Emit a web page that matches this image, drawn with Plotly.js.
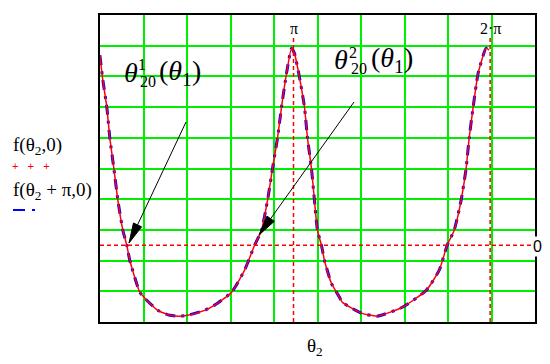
<!DOCTYPE html>
<html lang="en">
<head>
    <meta charset="UTF-8">
    <title>f(theta2) curves</title>
    <script src="https://cdn.plot.ly/plotly-3.0.1.min.js"></script>
    <style>
        body { margin: 0; background: #fff; }
        #plot { width: 550px; height: 364px; }
    </style>
</head>
<body>
    <div id="plot"></div>
    <script>
        // values (theta2 in rad, f in grid units)
        const theta2 = [0.048, 0.096, 0.159, 0.207, 0.271, 0.335, 0.415, 0.478, 0.526, 0.686,
            0.797, 0.973, 1.164, 1.308, 1.451, 1.722, 1.882, 2.153, 2.360, 2.520,
            2.631, 2.727, 2.807, 2.886, 2.950, 3.030, 3.110, 3.157, 3.237, 3.317,
            3.365, 3.428, 3.476, 3.524, 3.588, 3.636, 3.747, 3.875, 3.923, 4.226,
            4.481, 4.880, 5.262, 5.470, 5.597, 5.709, 5.820, 5.900, 5.948, 6.012,
            6.091, 6.219, 6.267];
        const fTheta2 = [6.19, 5.37, 4.50, 3.49, 2.51, 1.47, 0.49, 0.00, -0.49, -1.53,
            -1.79, -2.12, -2.28, -2.31, -2.28, -2.12, -1.95, -1.53, -0.81, 0.00,
            0.49, 1.47, 2.51, 3.49, 4.50, 5.60, 6.42, 6.25, 5.47, 4.50,
            3.49, 2.51, 1.47, 0.49, 0.00, -0.49, -1.24, -1.69, -1.86, -2.21,
            -2.31, -2.02, -1.47, -0.81, 0.00, 0.49, 1.47, 2.51, 3.49, 4.50,
            5.60, 6.42, 6.35];
        // f(theta2 + pi, 0) lies on top of f(theta2, 0) in the picture
        const fTheta2Pi = fTheta2.slice();

        const markerX = [Math.PI, 2 * Math.PI];
        const markerLabels = ['π', '2·π'];
        const xRange = [0.05, 7.0];
        const yRange = [-2.5, 7.5];

        // pixel -> paper helpers (plot area is 100..535 x 15..322)
        const px = x => (x - 100) / 435;
        const py = y => (322 - y) / 307;

        const serif = "'Liberation Serif', 'DejaVu Serif', serif";
        const sans = "'Liberation Sans', Arial, sans-serif";

        const traces = [
            {
                x: theta2, y: fTheta2Pi, type: 'scatter', mode: 'lines',
                line: { color: '#0000ff', width: 3, dash: '10px,6px,3px,6px', shape: 'spline', smoothing: 0.5 },
                hoverinfo: 'skip'
            },
            {
                x: theta2, y: fTheta2, type: 'scatter', mode: 'lines',
                line: { color: '#ff0000', width: 1.5, shape: 'spline', smoothing: 0.5 },
                hoverinfo: 'skip'
            }
        ];

        const shapes = [
            // zero line
            { type: 'line', xref: 'paper', yref: 'y', x0: 0, x1: 1, y0: 0, y1: 0,
              line: { color: '#ff0000', width: 1.5, dash: '4px,3px' } },
            // legend sample for the blue trace
            { type: 'line', xref: 'paper', yref: 'paper', x0: px(13), x1: px(25), y0: py(210), y1: py(210),
              line: { color: '#0000ff', width: 2 } },
            { type: 'line', xref: 'paper', yref: 'paper', x0: px(32), x1: px(35), y0: py(210), y1: py(210),
              line: { color: '#0000ff', width: 2 } }
        ];
        markerX.forEach(v => shapes.push({
            type: 'line', xref: 'x', yref: 'y', x0: v, x1: v, y0: yRange[0], y1: 6.8,
            line: { color: '#ff0000', width: 1.5, dash: '4px,3px' }
        }));

        // callout arrow: thin line plus a long narrow filled head (pixel coords)
        function arrow(x0, y0, x1, y1) {
            const dx = x1 - x0, dy = y1 - y0;
            const len = Math.hypot(dx, dy);
            const ux = dx / len, uy = dy / len;
            const headLen = 20, halfW = 4.5;
            const bx = x1 - ux * headLen, by = y1 - uy * headLen;
            shapes.push({ type: 'line', xref: 'paper', yref: 'paper',
                x0: px(x0), y0: py(y0), x1: px(bx), y1: py(by),
                line: { color: '#000', width: 1 } });
            const p1 = [bx - uy * halfW, by + ux * halfW];
            const p2 = [bx + uy * halfW, by - ux * halfW];
            shapes.push({ type: 'path', xref: 'paper', yref: 'paper',
                path: `M ${px(x1)} ${py(y1)} L ${px(p1[0])} ${py(p1[1])} L ${px(p2[0])} ${py(p2[1])} Z`,
                fillcolor: '#000', line: { color: '#000', width: 1 } });
        }
        arrow(186, 122, 129, 243);
        arrow(354, 102, 259, 235);

        const annotations = [];
        function txt(text, x, y, size, opts) {
            annotations.push(Object.assign({
                text: text, xref: 'paper', yref: 'paper', x: px(x), y: py(y),
                xanchor: 'center', yanchor: 'middle', showarrow: false,
                font: { family: serif, size: size, color: '#000' }
            }, opts || {}));
        }

        markerX.forEach((v, i) => annotations.push({
            text: markerLabels[i], xref: 'x', yref: 'paper', x: v, y: py(28),
            xanchor: 'center', yanchor: 'middle', showarrow: false,
            font: { family: serif, size: 16, color: '#000' }
        }));

        // right-hand "0" of the zero line
        txt('0', 537, 246, 16, { bgcolor: '#ffffff', font: { family: sans, size: 16, color: '#000' } });

        // theta^1_20(theta_1)
        txt('<i>θ</i>', 131, 72, 28);
        txt('1', 142, 65, 16);
        txt('20', 148, 81, 16);
        txt('(<i>θ</i><sub>1</sub>)', 157, 72, 28, { xanchor: 'left' });

        // theta^2_20(theta_1)
        txt('<i>θ</i>', 341, 60, 28);
        txt('2', 353, 52, 16);
        txt('20', 359, 68, 16);
        txt('(<i>θ</i><sub>1</sub>)', 369, 60, 28, { xanchor: 'left' });

        // legend on the left
        txt('f(θ<sub>2</sub>,0)', 11, 146, 19, { xanchor: 'left' });
        txt('+   +   +', 10, 166, 11, { xanchor: 'left', font: { family: sans, size: 11, color: '#ff0000' } });
        txt('f(θ<sub>2</sub> + π,0)', 11, 191, 19, { xanchor: 'left' });

        // axis label
        txt('θ<sub>2</sub>', 315, 347, 19);

        const layout = {
            width: 550, height: 364,
            margin: { l: 100, r: 15, t: 15, b: 42 },
            paper_bgcolor: '#ffffff', plot_bgcolor: '#ffffff',
            showlegend: false,
            xaxis: {
                range: xRange, tick0: 0.05, dtick: 0.695, showticklabels: false, ticks: '',
                showgrid: true, gridcolor: '#00ee00', gridwidth: 2, zeroline: false,
                showline: true, mirror: true, linecolor: '#000', linewidth: 2
            },
            yaxis: {
                range: yRange, tick0: 0.5, dtick: 1, showticklabels: false, ticks: '',
                showgrid: true, gridcolor: '#00ee00', gridwidth: 2, zeroline: false,
                showline: true, mirror: true, linecolor: '#000', linewidth: 2
            },
            shapes: shapes,
            annotations: annotations
        };

        Plotly.newPlot('plot', traces, layout, { staticPlot: true });
    </script>
</body>
</html>
